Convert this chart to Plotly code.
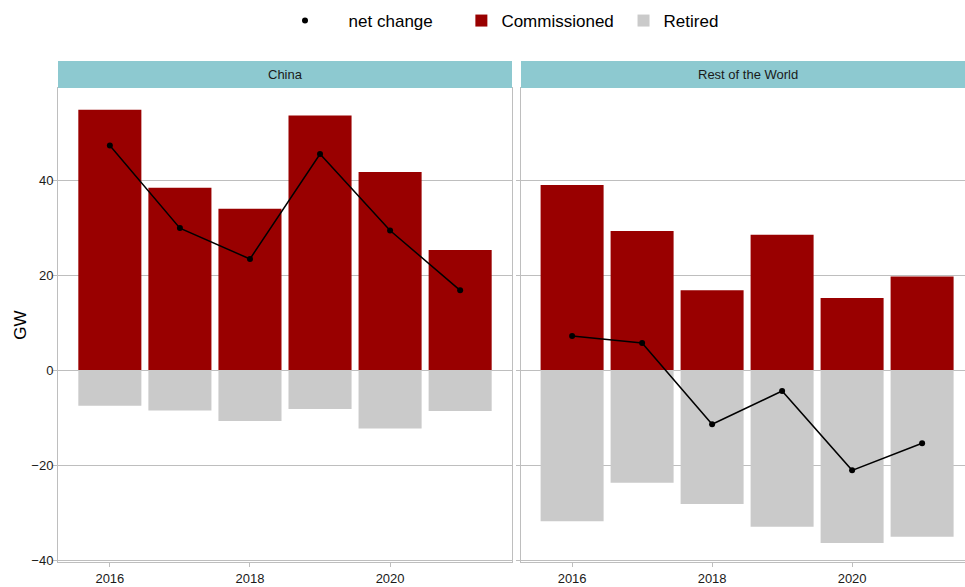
import plotly.graph_objects as go

years = [2016, 2017, 2018, 2019, 2020, 2021]
china_commissioned = [54.8, 38.4, 34.0, 53.6, 41.7, 25.3]
china_retired = [-7.5, -8.5, -10.7, -8.2, -12.3, -8.6]
china_net = [47.3, 29.9, 23.4, 45.5, 29.4, 16.8]
row_commissioned = [39.0, 29.3, 16.8, 28.5, 15.2, 19.7]
row_retired = [-31.8, -23.7, -28.2, -33.0, -36.4, -35.1]
row_net = [7.2, 5.7, -11.4, -4.4, -21.1, -15.4]
panels = ["China", "Rest of the World"]

RED = "#990000"
GREY = "#CACACA"
STRIP = "#8DC9D0"
GRID = "#BEBEBE"

W, H = 965, 587
ML, MR, MT, MB = 58, 0, 61, 25
PW = W - ML - MR
PH = H - MT - MB

def px_x(p):
    return (p - ML) / PW

def px_y(p):
    return (H - MB - p) / PH

NB = "\u00a0"
fig = go.Figure()

data = [(china_commissioned, china_retired, china_net), (row_commissioned, row_retired, row_net)]
for i, (comm, ret, net) in enumerate(data):
    xa = "x" if i == 0 else "x2"
    ya = "y" if i == 0 else "y2"
    fig.add_trace(go.Bar(x=years, y=comm, name="Commissioned" + NB, marker=dict(color=RED, line=dict(width=0)),
                         width=0.9, xaxis=xa, yaxis=ya, legendgroup="c", showlegend=(i == 0), legendrank=2))
    fig.add_trace(go.Bar(x=years, y=ret, name="Retired", marker=dict(color=GREY, line=dict(width=0)),
                         width=0.9, xaxis=xa, yaxis=ya, legendgroup="r", showlegend=(i == 0), legendrank=3))
    fig.add_trace(go.Scatter(x=years, y=net, mode="lines", line=dict(color="black", width=1.5),
                             xaxis=xa, yaxis=ya, legendgroup="n", showlegend=False, hoverinfo="skip"))
    fig.add_trace(go.Scatter(x=years, y=net, mode="markers", name=NB * 5 + "net change" + NB * 5,
                             marker=dict(color="black", size=6), xaxis=xa, yaxis=ya,
                             legendgroup="n", showlegend=(i == 0), legendrank=1))

ytop = px_y(88)
xcommon = dict(showgrid=False, zeroline=False, showline=True, linecolor=GRID, linewidth=1, mirror=True,
               ticks="outside", ticklen=4, tickcolor=GRID, tickfont=dict(size=13, color="#1a1a1a"),
               tickvals=[2016, 2018, 2020], automargin=False)
ycommon = dict(domain=[0, ytop], range=[-40.4, 59.4], tickvals=[-40, -20, 0, 20, 40], showgrid=True,
               gridcolor=GRID, gridwidth=1, zeroline=False, showline=True, linecolor=GRID, mirror=True,
               ticks="outside", ticklen=4, tickcolor=GRID, tickfont=dict(size=13, color="#1a1a1a"),
               automargin=False)
fig.update_layout(
    width=W, height=H,
    margin=dict(l=ML, r=MR, t=MT, b=MB, autoexpand=False),
    plot_bgcolor="white", paper_bgcolor="white",
    font=dict(family="Liberation Sans, Arial, sans-serif", color="#1a1a1a"),
    barmode="relative", bargap=0.1,
    showlegend=True,
    legend=dict(orientation="h", xref="container", yref="container", x=285 / W, xanchor="left",
                y=1 - 21 / H, yanchor="middle",
                font=dict(size=17, color="black"), traceorder="normal"),
    xaxis=dict(domain=[0, px_x(512)], range=[2015.26, 2021.74], anchor="y", **xcommon),
    xaxis2=dict(domain=[px_x(521), 1], range=[2015.27, 2015.27 + (W - 521) / 70.0], anchor="y2", **xcommon),
    yaxis=dict(title=dict(text="GW", font=dict(size=17, color="black"), standoff=0), anchor="x",
               ticklabelstandoff=-3, **ycommon),
    yaxis2=dict(showticklabels=False, anchor="x2", matches="y", **{k: v for k, v in ycommon.items() if k != "tickfont"}),
)

# Strips
strips = [(px_x(58), px_x(512)), (px_x(521), 1.0)]
for (x0, x1), label in zip(strips, panels):
    fig.add_shape(type="rect", xref="paper", yref="paper", x0=x0, x1=x1, y0=ytop, y1=1.0,
                  fillcolor=STRIP, line=dict(width=0), layer="above")
    cx = (x0 + x1) / 2 if label == "China" else (px_x(521) + px_x(521 + 454)) / 2
    fig.add_annotation(xref="paper", yref="paper", x=cx,
                       y=(ytop + 1) / 2, text=label, showarrow=False, font=dict(size=13, color="#1a1a1a"),
                       xanchor="center", yanchor="middle")

fig.write_html("out.html", config={"displayModeBar": False},
               post_script="document.body.style.margin='0px';")
